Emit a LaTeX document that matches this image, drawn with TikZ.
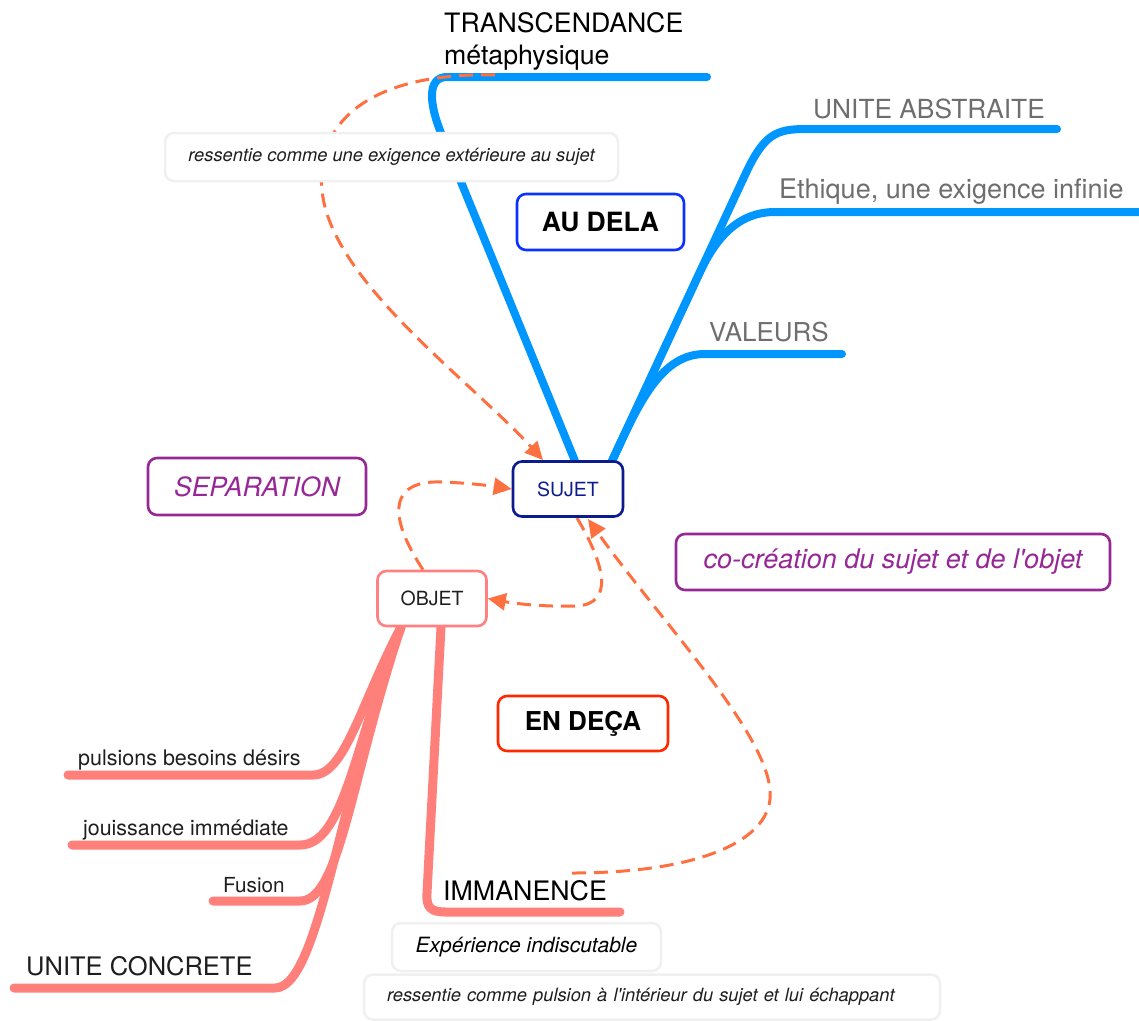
\documentclass[tikz,border=0pt]{standalone}
\usepackage{fontspec}
\setmainfont{TeX Gyre Heros}
\usetikzlibrary{arrows.meta}
\definecolor{brblue}{RGB}{0,150,255}
\definecolor{brpink}{RGB}{255,128,122}
\definecolor{dasho}{RGB}{255,112,64}
\definecolor{navyc}{RGB}{12,28,140}
\definecolor{salmonc}{RGB}{255,128,128}
\definecolor{boxblue}{RGB}{10,50,255}
\definecolor{boxred}{RGB}{255,40,0}
\definecolor{purp}{RGB}{150,40,150}
\definecolor{graytxt}{RGB}{110,110,110}
\definecolor{darktxt}{RGB}{30,30,30}
\definecolor{calloutborder}{RGB}{240,240,240}
\newcommand{\myfs}[1]{\fontsize{#1pt}{#1pt}\selectfont}
\pgfdeclarelayer{bg}
\pgfsetlayers{bg,main}
\begin{document}
\begin{tikzpicture}[x=1pt,y=-1pt,
 blueline/.style={draw=brblue, line width=8pt, line cap=round, line join=round},
 pinkline/.style={draw=brpink, line width=9pt, line cap=round, line join=round},
 dashline/.style={draw=dasho, line width=3pt, dash pattern=on 14pt off 8pt, -{Triangle[length=18pt,width=17pt]}},
 box/.style={rounded corners=9pt, line width=2.6pt, fill=white, inner sep=0pt, align=center},
 callout/.style={box, draw=calloutborder, line width=2.5pt},
 lbl/.style={anchor=base west, inner sep=0pt},
]
\useasboundingbox (0,0) rectangle (1139,1020);

% main boxes
\node[box, draw=navyc, minimum width=110pt, minimum height=55pt, text=navyc, font=\myfs{19.5}] (sujet) at (568,489) {SUJET};
\node[box, draw=salmonc, minimum width=109pt, minimum height=55pt, text=darktxt, font=\myfs{19.5}] (objet) at (432,598.5) {OBJET};
\node[box, draw=boxblue, minimum width=167pt, minimum height=56pt, font=\bfseries\myfs{26.5}] (audela) at (600.5,222) {AU DELA};
\node[box, draw=boxred, minimum width=170pt, minimum height=55pt, font=\bfseries\myfs{26}] (endeca) at (583,723.5) {EN DEÇA};
\node[box, draw=purp, minimum width=218pt, minimum height=57pt, text=purp, font=\itshape\myfs{26.5}] (separation) at (257,486.5) {SEPARATION};
\node[box, draw=purp, minimum width=434pt, minimum height=56pt, text=purp, font=\itshape\myfs{27}] (cocreation) at (893,562) {co-création du sujet et de l\textquotesingle objet};
\node[callout, minimum width=453pt, minimum height=48pt, text=darktxt, font=\itshape\myfs{18.3}] (callA) at (391.5,157) {ressentie comme une exigence extérieure au sujet};
\node[callout, minimum width=269pt, minimum height=48pt, text=black, font=\itshape\myfs{21}] (experience) at (526.5,947) {Expérience indiscutable};
\node[callout, inner xsep=23pt, text width=530pt, align=left, minimum height=45pt, text=darktxt, font=\itshape\myfs{18.3}] (callB) at (652,997) {ressentie comme pulsion à l\textquotesingle intérieur du sujet et lui échappant};

% labels
\node[lbl, font=\myfs{26.7}] (trans) at (444,32) {TRANSCENDANCE};
\node[lbl, font=\myfs{26.7}] (meta) at (444,64.5) {métaphysique};
\node[lbl, font=\myfs{26.3}, text=graytxt] (ua) at (813,118) {UNITE ABSTRAITE};
\node[lbl, font=\myfs{27}, text=graytxt] (eth) at (779,198) {Ethique, une exigence infinie};
\node[lbl, font=\myfs{26}, text=graytxt] (val) at (709,341) {VALEURS};
\node[lbl, font=\myfs{26.8}] (imm) at (443,900) {IMMANENCE};
\node[lbl, font=\myfs{21.5}, text=darktxt] (puls) at (78,765) {pulsions besoins désirs};
\node[lbl, font=\myfs{21.4}, text=darktxt] (jou) at (83,835) {jouissance immédiate};
\node[lbl, font=\myfs{20.7}, text=darktxt] (fus) at (223,892) {Fusion};
\node[lbl, font=\myfs{25.5}, text=darktxt] (uc) at (26,975) {UNITE CONCRETE};

% connector coordinates
\coordinate (sujA) at (575,461);
\coordinate (sujB) at (612,461);
\coordinate (objA) at (401,627);
\coordinate (objB) at (441,627);
\coordinate (transEnd) at (707,77);
\coordinate (uaEnd) at (1057,129);
\coordinate (ethEnd) at (1145,212);
\coordinate (valEnd) at (842,354);
\coordinate (immEnd) at (620,912);
\coordinate (pulsEnd) at (68,775);
\coordinate (jouEnd) at (72,845);
\coordinate (fusEnd) at (213,901);
\coordinate (ucEnd) at (14,988);
\coordinate (dashTrans) at (495,75);
\coordinate (dashImm) at (572,873);
\coordinate (sujNW) at (543,460);
\coordinate (sujS1) at (577,518);
\coordinate (sujS2) at (588,519);

\begin{pgfonlayer}{bg}
% blue branches
\draw[blueline] (sujA) -- (441,133) .. controls (430,106) and (426,77) .. (447,77) -- (transEnd);
\draw[blueline] (sujB) -- (745,175) .. controls (764,134) and (776,129) .. (806,129) -- (uaEnd);
\draw[blueline] (sujB) -- (700,272) .. controls (716,238) and (738,212) .. (775,212) -- (ethEnd);
\draw[blueline] (sujB) .. controls (640,400) and (662,354) .. (705,354) -- (valEnd);
% pink branches
\draw[pinkline] (objB) -- (427,893) .. controls (426,908) and (431,912) .. (446,912) -- (immEnd);
\draw[pinkline] (objA) .. controls (360,705) and (345,775) .. (313,775) -- (pulsEnd);
\draw[pinkline] (objA) .. controls (355,740) and (345,845) .. (300,845) -- (jouEnd);
\draw[pinkline] (objA) .. controls (350,780) and (340,901) .. (300,901) -- (fusEnd);
\draw[pinkline] (objA) .. controls (340,790) and (320,988) .. (275,988) -- (ucEnd);
% dashed arrows
\draw[dashline] (dashTrans) .. controls (360,72) and (315,130) .. (322,190) .. controls (330,280) and (470,380) .. (sujNW);
\draw[dashline] ([xshift=-9pt]objet.north) .. controls (385,512) and (392,480) .. (442,482) .. controls (470,483) and (492,486) .. (sujet.west);
\draw[dashline] (sujS1) .. controls (605,565) and (615,605) .. (575,606) .. controls (540,607) and (512,603) .. (objet.east);
\draw[dashline] (dashImm) .. controls (700,873) and (775,840) .. (770,790) .. controls (765,730) and (660,620) .. (sujS2);
\end{pgfonlayer}
\end{tikzpicture}
\end{document}
